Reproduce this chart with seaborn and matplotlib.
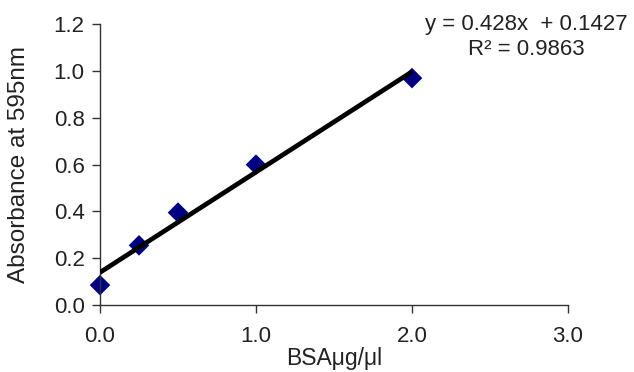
import numpy as np
import pandas as pd
import matplotlib
matplotlib.use("Agg")
import matplotlib.pyplot as plt
import seaborn as sns

# Data
bsa_conc = [0.0, 0.25, 0.5, 1.0, 2.0]
absorbance = [0.085, 0.255, 0.395, 0.60, 0.97]
x_ticks = [0.0, 1.0, 2.0, 3.0]
y_ticks = [0.0, 0.2, 0.4, 0.6, 0.8, 1.0, 1.2]
equation_line = "y = 0.428x  + 0.1427"
r2_line = "R² = 0.9863"

sns.set_theme(style="white")
plt.rcParams['font.family'] = ['Liberation Sans', 'DejaVu Sans']

df = pd.DataFrame({"x": bsa_conc, "y": absorbance})

W, H = 634, 372
fig = plt.figure(figsize=(W / 100, H / 100), dpi=100)
left, right, top, bottom = 100, 568, 24.3, 305
ax = fig.add_axes([left / W, 1 - bottom / H, (right - left) / W, (bottom - top) / H])

sns.regplot(data=df, x="x", y="y", ax=ax, ci=None, truncate=True,
            marker="D",
            scatter_kws=dict(s=110, color="#000080", alpha=1, edgecolors="none",
                             linewidths=0, zorder=2, clip_on=False),
            line_kws=dict(color="black", lw=3.4, zorder=3, solid_capstyle="butt"))

ax.set_xlim(0, 3.0)
ax.set_ylim(0, 1.2)
ax.set_xticks(x_ticks)
ax.set_yticks(y_ticks)
ax.set_xticklabels([f"{v:.1f}" for v in x_ticks])
ax.set_yticklabels([f"{v:.1f}" for v in y_ticks])
ax.set_xlabel("BSAμg/μl", fontsize=16.5, color="#222222", labelpad=0)
ax.set_ylabel("Absorbance at 595nm", fontsize=17.5, color="#222222", labelpad=17)

for side in ["top", "right"]:
    ax.spines[side].set_visible(False)
for side in ["left", "bottom"]:
    ax.spines[side].set_color("#333333")
    ax.spines[side].set_linewidth(1.0)

ax.tick_params(axis="both", which="major", direction="out", length=6, width=1,
               color="#333333", labelsize=16, labelcolor="#222222",
               left=True, bottom=True)
ax.tick_params(axis="y", pad=5)
ax.tick_params(axis="x", pad=9)

fig.text(526 / W, 1 - 30 / H, equation_line, ha="center", va="baseline",
         fontsize=16, color="#222222")
fig.text(526 / W, 1 - 55 / H, r2_line, ha="center", va="baseline",
         fontsize=16, color="#222222")

fig.savefig("out.png", dpi=100, facecolor="white")
